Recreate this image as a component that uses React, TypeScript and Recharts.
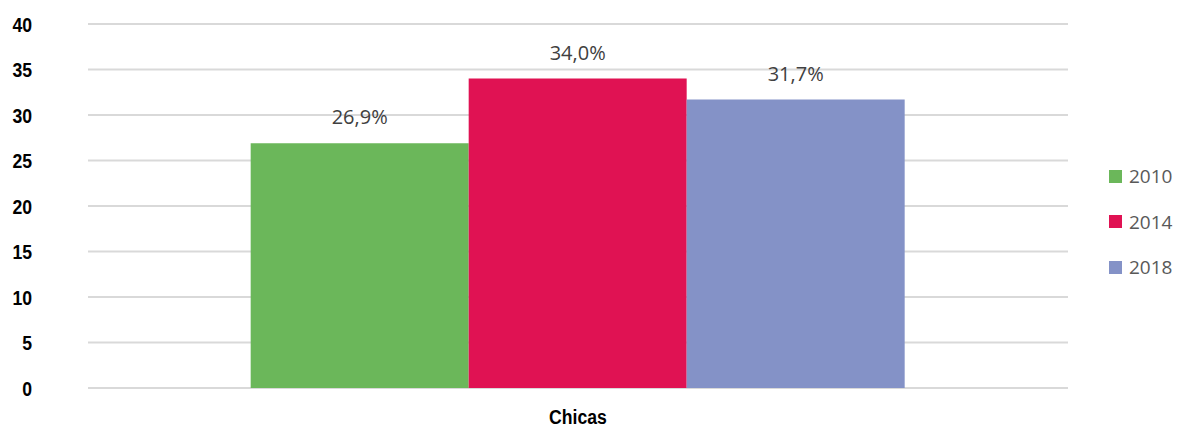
import { BarChart, Bar, XAxis, YAxis, CartesianGrid, LabelList } from "recharts"

const categories = ["Chicas"]
const years = ["2010", "2014", "2018"]
const values2010 = [26.9]
const values2014 = [34.0]
const values2018 = [31.7]
const yTicks = [0, 5, 10, 15, 20, 25, 30, 35, 40]

const colors: Record<string, string> = {
  "2010": "#6BB75A",
  "2014": "#E01253",
  "2018": "#8492C7",
}

const data = categories.map((name, i) => ({
  name,
  "2010": values2010[i],
  "2014": values2014[i],
  "2018": values2018[i],
}))

const fmt = (v: any) => `${Number(v).toFixed(1).replace(".", ",")}%`

const boldFont = "'Liberation Sans', Arial, sans-serif"
const body = "'Open Sans', 'Noto Sans', sans-serif"

// narrow bold look, like Arial Narrow in the original
function YTick({ x, y, payload }: any) {
  return (
    <g transform={`translate(${x},${y})`}>
      <text
        transform="scale(0.84,1)"
        textAnchor="end"
        dy="0.36em"
        fill="#000"
        fontSize={21}
        fontWeight={700}
        fontFamily={boldFont}
      >
        {payload.value}
      </text>
    </g>
  )
}

function XTick({ x, y, payload }: any) {
  return (
    <g transform={`translate(${x},${y})`}>
      <text
        transform="scale(0.84,1)"
        textAnchor="middle"
        dy="0.36em"
        fill="#000"
        fontSize={21}
        fontWeight={700}
        fontFamily={boldFont}
      >
        {payload.value}
      </text>
    </g>
  )
}

function LegendBox() {
  return (
    <div style={{ position: "absolute", left: 1109, top: 165, display: "flex", flexDirection: "column" }}>
      {years.map((y) => (
        <div key={y} style={{ display: "flex", alignItems: "center", height: 22, marginBottom: 23.5 }}>
          <span style={{ width: 13, height: 13, background: colors[y], display: "inline-block", marginRight: 7 }} />
          <span style={{ fontFamily: body, fontSize: 19, color: "#595959", lineHeight: "22px" }}>{y}</span>
        </div>
      ))}
    </div>
  )
}

export default function App() {
  return (
    <div style={{ position: "absolute", left: 0, top: 0, width: 1180, height: 428, background: "#fff" }}>
      <BarChart
        width={1180}
        height={428}
        data={data}
        margin={{ top: 24, right: 112, left: 0, bottom: 10 }}
        barCategoryGap="16.6%"
        barGap={0}
      >
        <CartesianGrid horizontal vertical={false} stroke="#d9d9d9" strokeWidth={2} />
        <XAxis
          dataKey="name"
          axisLine={false}
          tickLine={false}
          height={30}
          tickSize={0}
          tickMargin={28}
          tick={<XTick />}
        />
        <YAxis
          domain={[0, 40]}
          ticks={yTicks}
          width={88}
          axisLine={false}
          tickLine={false}
          tickSize={0}
          tickMargin={56}
          tick={<YTick />}
        />
        {years.map((y) => (
          <Bar key={y} dataKey={y} fill={colors[y]} isAnimationActive={false}>
            <LabelList
              dataKey={y}
              position="top"
              offset={19}
              formatter={fmt}
              style={{ fill: "#404040", fontSize: 20, fontFamily: body }}
            />
          </Bar>
        ))}
      </BarChart>
      <LegendBox />
    </div>
  )
}
